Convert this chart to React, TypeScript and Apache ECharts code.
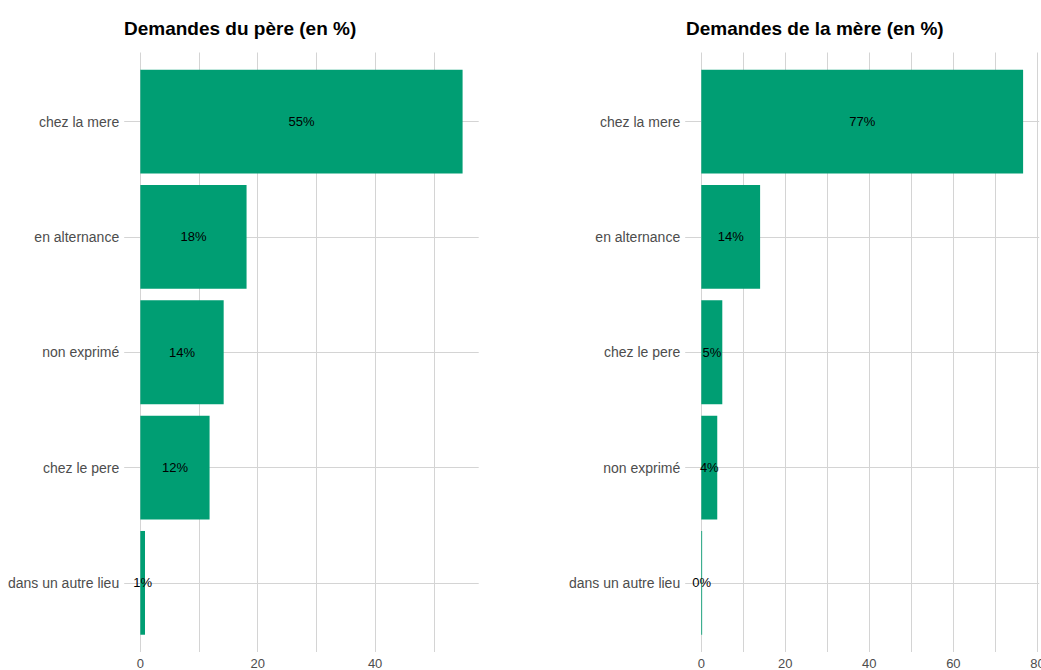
import React, { useEffect, useRef } from "react";
import * as echarts from "echarts";

const categoriesPere = ["chez la mere", "en alternance", "non exprimé", "chez le pere", "dans un autre lieu"];
const valuesPere = [54.9, 18.1, 14.2, 11.8, 0.8];
const categoriesMere = ["chez la mere", "en alternance", "chez le pere", "non exprimé", "dans un autre lieu"];
const valuesMere = [76.6, 14.0, 5.0, 3.8, 0.2];
const titlePere = "Demandes du père (en %)";
const titleMere = "Demandes de la mère (en %)";
const xTicksPere = [0, 20, 40];
const xGridPere = [0, 10, 20, 30, 40, 50];
const xTicksMere = [0, 20, 40, 60, 80];
const xGridMere = [0, 10, 20, 30, 40, 50, 60, 70, 80];
const positions = [1, 2, 3, 4, 5];

const GREEN = "#009E73";
const GRID = "#d4d4d4";
const FONT = "'Liberation Sans', Arial, sans-serif";

function expand(vals: number[]) {
  const mx = Math.max(...vals);
  const pad = mx * 0.05;
  return { min: -pad, max: mx + pad };
}

export default function App() {
  const ref = useRef<HTMLDivElement>(null);
  useEffect(() => {
    if (!ref.current) return;
    const chart = echarts.init(ref.current, null, { renderer: "svg" });
    const ep = expand(valuesPere);
    const em = expand(valuesMere);
    const frameX = (ticks: number[], grid: number[], e: { min: number; max: number }, gi: number) => ({
      type: "value",
      gridIndex: gi,
      min: e.min,
      max: e.max,
      axisLine: { show: false },
      axisTick: { show: false, customValues: grid },
      axisLabel: {
        customValues: ticks,
        color: "#4d4d4d",
        fontSize: 13,
        fontFamily: FONT,
        margin: 5,
      },
      splitLine: { show: true, lineStyle: { color: GRID, width: 1 } },
    });
    const frameY = (cats: string[], gi: number) => ({
      type: "value",
      gridIndex: gi,
      inverse: true,
      min: 0.4,
      max: 5.6,
      axisLine: { show: false },
      axisTick: { show: false, customValues: positions },
      axisLabel: {
        customValues: positions,
        formatter: (v: number) => cats[Math.round(v) - 1] ?? "",
        color: "#4d4d4d",
        fontSize: 14,
        fontFamily: FONT,
        margin: 5,
      },
      splitLine: { show: true, lineStyle: { color: GRID, width: 1 } },
    });
    const barX = (e: { min: number; max: number }, gi: number) => ({
      type: "value",
      gridIndex: gi,
      min: e.min,
      max: e.max,
      show: false,
      splitLine: { show: false },
    });
    const barY = (cats: string[], gi: number) => ({
      type: "category",
      gridIndex: gi,
      inverse: true,
      data: cats,
      show: false,
    });
    const barSeries = (vals: number[], gi: number) => ({
      type: "bar",
      xAxisIndex: gi,
      yAxisIndex: gi,
      barWidth: "90%",
      data: vals,
      itemStyle: { color: GREEN },
      label: {
        show: true,
        position: "inside",
        color: "#000",
        fontSize: 13,
        fontFamily: FONT,
        formatter: (p: any) => Math.round(p.value) + "%",
      },
    });
    const titleStyle = { fontSize: 19, fontWeight: "bold", color: "#000", fontFamily: FONT };
    const g = { outerBoundsMode: "none", containLabel: false };
    chart.setOption({
      animation: false,
      backgroundColor: "#fff",
      title: [
        { text: titlePere, left: 124, top: 19, padding: 0, textStyle: titleStyle },
        { text: titleMere, left: 686, top: 19, padding: 0, textStyle: titleStyle },
      ],
      grid: [
        { ...g, left: 124.2, top: 52.5, width: 354.5, height: 599.5 },
        { ...g, left: 685.2, top: 52.5, width: 354, height: 599.5 },
        { ...g, left: 124.2, top: 64, width: 354.5, height: 576.5 },
        { ...g, left: 685.2, top: 64, width: 354, height: 576.5 },
      ],
      xAxis: [
        frameX(xTicksPere, xGridPere, ep, 0),
        frameX(xTicksMere, xGridMere, em, 1),
        barX(ep, 2),
        barX(em, 3),
      ],
      yAxis: [frameY(categoriesPere, 0), frameY(categoriesMere, 1), barY(categoriesPere, 2), barY(categoriesMere, 3)],
      series: [barSeries(valuesPere, 2), barSeries(valuesMere, 3)],
    });
    return () => chart.dispose();
  }, []);
  return (
    <div
      ref={ref}
      style={{ position: "fixed", left: 0, top: 0, width: 1041, height: 670, background: "#fff" }}
    />
  );
}
